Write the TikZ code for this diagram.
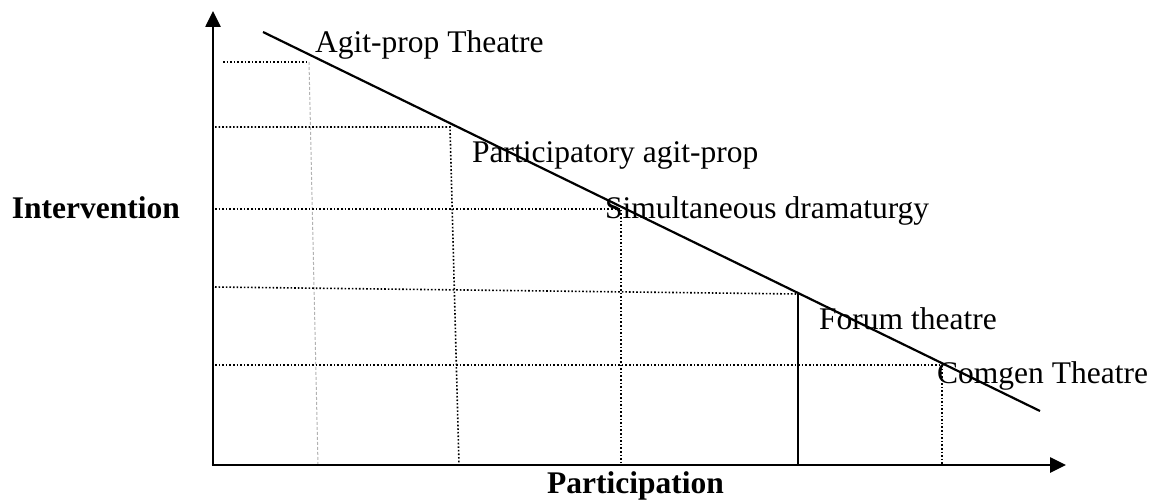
\documentclass[tikz,border=0pt]{standalone}
\usepackage{fontspec}
\setmainfont{Liberation Serif}
\usetikzlibrary{arrows.meta}

\begin{document}
\begin{tikzpicture}[x=1pt,y=-1pt,
  lbl/.style={inner sep=0pt,anchor=base west,font=\fontsize{31.5}{36}\selectfont},
  axlbl/.style={lbl,font=\fontsize{31.5}{36}\selectfont\bfseries},
  ax/.style={line width=2.6pt,-{Triangle[length=16pt,width=15pt]}},
  grd/.style={line width=1.6pt,dotted},
  faint/.style={line width=1pt,densely dashed,black!30}]
  \useasboundingbox (0,0) rectangle (1154,500);
  \coordinate (o) at (213,465);
  \coordinate (ytop) at (213,11);
  \coordinate (xend) at (1066,465);
  \coordinate (h1) at (223,62); \coordinate (c1) at (309,62); \coordinate (b1) at (318,465);
  \coordinate (h2) at (215,127); \coordinate (c2) at (450,127); \coordinate (b2) at (459,465);
  \coordinate (h3) at (215,209); \coordinate (c3) at (621,209); \coordinate (b3) at (621,465);
  \coordinate (h4) at (215,287); \coordinate (c4) at (798,294); \coordinate (b4) at (798,465);
  \coordinate (h5) at (215,365); \coordinate (c5) at (942,365); \coordinate (b5) at (942,465);
  \coordinate (d0) at (263,32); \coordinate (d1) at (1040,411);
  \draw[grd] (h1) -- (c1);
  \draw[faint] (c1) -- (b1);
  \draw[grd] (h2) -- (c2) -- (b2);
  \draw[grd] (h3) -- (c3) -- (b3);
  \draw[grd] (h4) -- (c4);
  \draw[line width=1.6pt] (c4) -- (b4);
  \draw[grd] (h5) -- (c5) -- (b5);
  \draw[line width=2.2pt] (d0) -- (d1);
  \draw[ax] (o) -- (ytop);
  \draw[ax] ([xshift=-1.3pt]o) -- (xend);
  \node[lbl] (agit) at (315,53) {Agit-prop Theatre};
  \node[lbl] (partagit) at (472,162) {Participatory agit-prop};
  \node[lbl] (simul) at (605,218) {Simultaneous dramaturgy};
  \node[lbl] (forum) at (819,329) {Forum theatre};
  \node[lbl] (comgen) at (937,383) {Comgen Theatre};
  \node[axlbl,anchor=base east] (interv) at (180,218) {Intervention};
  \node[axlbl] (partic) at (547,493) {Participation};
\end{tikzpicture}
\end{document}
